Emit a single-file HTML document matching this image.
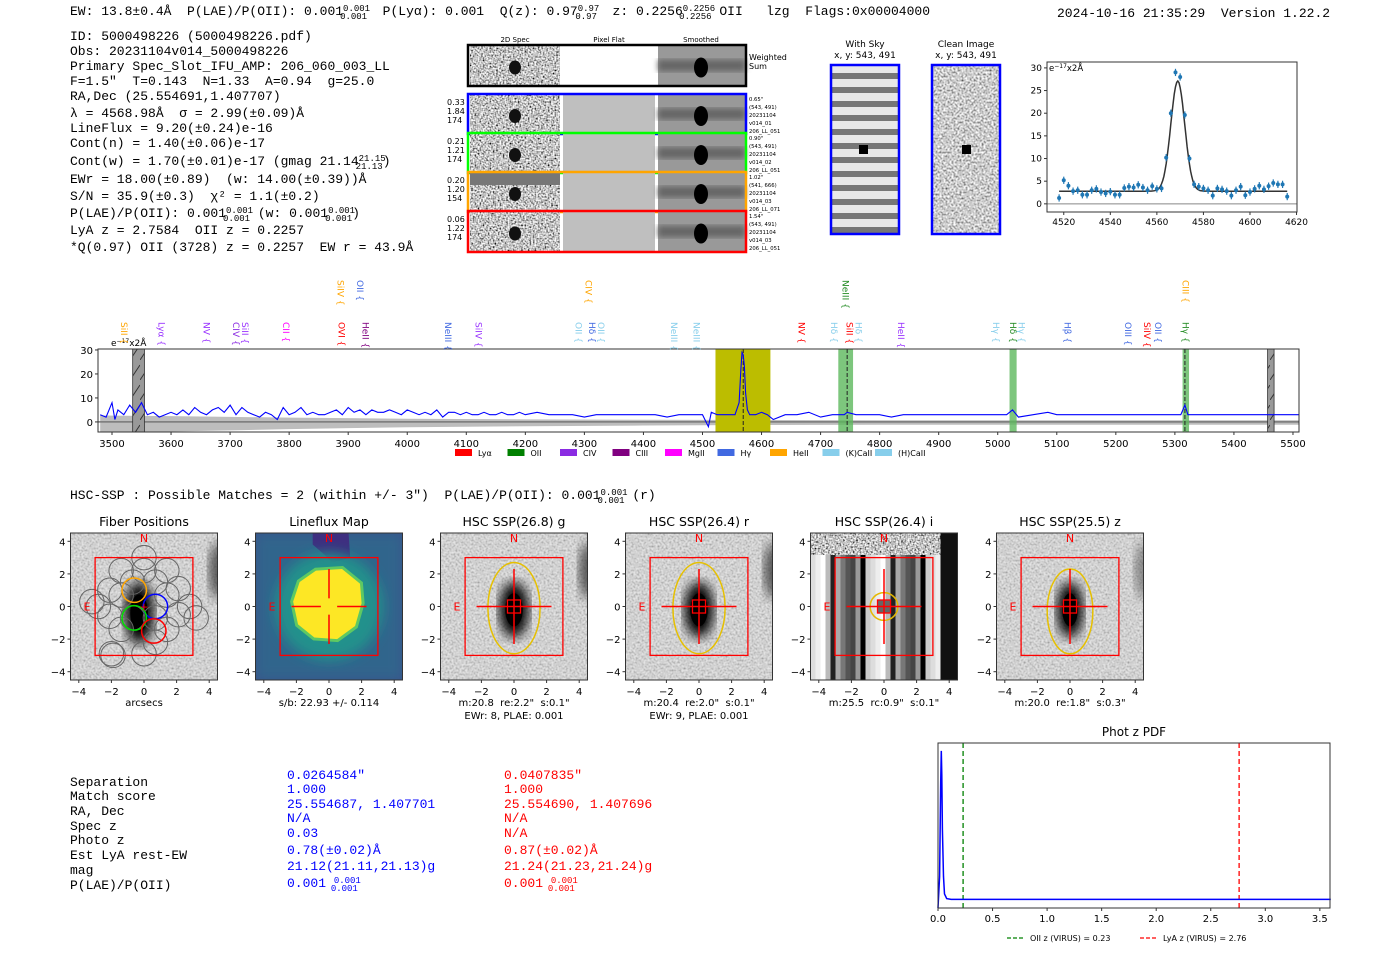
<!DOCTYPE html>
<html><head><meta charset="utf-8"><style>
html,body{margin:0;padding:0;background:#fff;width:1400px;height:953px;overflow:hidden}
svg{display:block}
text{white-space:pre}
.m{font-family:"Liberation Mono",monospace;font-size:13px;fill:#000}
.s{font-family:"DejaVu Sans","Liberation Sans",sans-serif}
</style></head><body>
<svg id="fig" width="1400" height="953" viewBox="0 0 1400 953" xmlns="http://www.w3.org/2000/svg" xml:space="preserve">
<defs>
<filter id="noise" x="0" y="0" width="1" height="1"><feTurbulence type="fractalNoise" baseFrequency="0.6" numOctaves="1" seed="3"/><feColorMatrix type="matrix" values="2.2 0 0 0 -0.55  2.2 0 0 0 -0.55  2.2 0 0 0 -0.55  0 0 0 0 1"/><feComposite in2="SourceGraphic" operator="in"/></filter>
<filter id="noise2" x="0" y="0" width="1" height="1"><feTurbulence type="fractalNoise" baseFrequency="0.5" numOctaves="1" seed="7"/><feColorMatrix type="matrix" values="1.6 0 0 0 -0.2  1.6 0 0 0 -0.2  1.6 0 0 0 -0.2  0 0 0 0 1"/><feComposite in2="SourceGraphic" operator="in"/></filter>
<filter id="blur3"><feGaussianBlur stdDeviation="3"/></filter>
<filter id="blur6"><feGaussianBlur stdDeviation="6"/></filter>
<pattern id="hatch" width="10" height="20" patternUnits="userSpaceOnUse"><rect width="10" height="20" fill="#999"/><path d="M0 20 L10 5" stroke="#333" stroke-width="1"/></pattern>
<pattern id="stripes" width="68" height="14" patternUnits="userSpaceOnUse"><rect width="68" height="14" fill="#e8e8e8"/><rect y="3" width="68" height="6" fill="#777"/></pattern>
</defs>
<g id="header">
<text class="m" x="70" y="15">EW: 13.8±0.4Å  P(LAE)/P(OII): 0.001<tspan font-size="9" dy="-4">0.001</tspan><tspan font-size="9" dx="-30" dy="8">0.001</tspan><tspan dy="-4">  P(Lyα): 0.001  Q(z): 0.97</tspan><tspan font-size="9" dy="-4">0.97</tspan><tspan font-size="9" dx="-24" dy="8">0.97</tspan><tspan dy="-4">  z: 0.2256</tspan><tspan font-size="9" dy="-4">0.2256</tspan><tspan font-size="9" dx="-36" dy="8">0.2256</tspan><tspan dy="-4"> OII   lzg  Flags:0x00004000</tspan></text>
<text class="m" x="1057" y="17">2024-10-16 21:35:29  Version 1.22.2</text>
</g>
<g id="info" class="m">
<text x="70" y="40">ID: 5000498226 (5000498226.pdf)</text>
<text x="70" y="55">Obs: 20231104v014_5000498226</text>
<text x="70" y="70">Primary Spec_Slot_IFU_AMP: 206_060_003_LL</text>
<text x="70" y="85">F=1.5"  T=0.143  N=1.33  A=0.94  g=25.0</text>
<text x="70" y="100">RA,Dec (25.554691,1.407707)</text>
<text x="70" y="117">λ = 4568.98Å  σ = 2.99(±0.09)Å</text>
<text x="70" y="132">LineFlux = 9.20(±0.24)e-16</text>
<text x="70" y="147">Cont(n) = 1.40(±0.06)e-17</text>
<text x="70" y="165">Cont(w) = 1.70(±0.01)e-17 (gmag 21.14<tspan font-size="9" dy="-4">21.15</tspan><tspan font-size="9" dx="-30" dy="8">21.13</tspan><tspan dy="-4">)</tspan></text>
<text x="70" y="183">EWr = 18.00(±0.89)  (w: 14.00(±0.39))Å</text>
<text x="70" y="200">S/N = 35.9(±0.3)  χ² = 1.1(±0.2)</text>
<text x="70" y="217">P(LAE)/P(OII): 0.001<tspan font-size="9" dy="-4">0.001</tspan><tspan font-size="9" dx="-30" dy="8">0.001</tspan><tspan dy="-4"> (w: 0.001</tspan><tspan font-size="9" dy="-4">0.001</tspan><tspan font-size="9" dx="-30" dy="8">0.001</tspan><tspan dy="-4">)</tspan></text>
<text x="70" y="234">LyA z = 2.7584  OII z = 0.2257</text>
<text x="70" y="251">*Q(0.97) OII (3728) z = 0.2257  EW r = 43.9Å</text>
</g>
<g id="spec2d"></g>
<g id="skyimgs"></g>
<g id="zoomplot"></g>
<g id="spectrum"></g>
<text class="m" x="70" y="499">HSC-SSP : Possible Matches = 2 (within +/- 3")  P(LAE)/P(OII): 0.001<tspan font-size="9" dy="-4">0.001</tspan><tspan font-size="9" dx="-30" dy="8">0.001</tspan><tspan dy="-4"> (r)</tspan></text>
<g id="panels"></g>
<g id="table" class="m">
<g>
<text x="70" y="786">Separation</text><text x="70" y="800">Match score</text><text x="70" y="815">RA, Dec</text><text x="70" y="830">Spec z</text><text x="70" y="844">Photo z</text><text x="70" y="859">Est LyA rest-EW</text><text x="70" y="874">mag</text><text x="70" y="889">P(LAE)/P(OII)</text></g>
<g>
<text x="287" y="779" style="fill:#00f">0.0264584"</text><text x="287" y="793" style="fill:#00f">1.000</text><text x="287" y="808" style="fill:#00f">25.554687, 1.407701</text><text x="287" y="822" style="fill:#00f">N/A</text><text x="287" y="837" style="fill:#00f">0.03</text><text x="287" y="854" style="fill:#00f">0.78(±0.02)Å</text><text x="287" y="870" style="fill:#00f">21.12(21.11,21.13)g</text><text x="287" y="887" style="fill:#00f">0.001 <tspan font-size="9" dy="-4">0.001</tspan><tspan font-size="9" dx="-30" dy="8">0.001</tspan></text></g>
<g>
<text x="504" y="779" style="fill:#f00">0.0407835"</text><text x="504" y="793" style="fill:#f00">1.000</text><text x="504" y="808" style="fill:#f00">25.554690, 1.407696</text><text x="504" y="822" style="fill:#f00">N/A</text><text x="504" y="837" style="fill:#f00">N/A</text><text x="504" y="854" style="fill:#f00">0.87(±0.02)Å</text><text x="504" y="870" style="fill:#f00">21.24(21.23,21.24)g</text><text x="504" y="887" style="fill:#f00">0.001 <tspan font-size="9" dy="-4">0.001</tspan><tspan font-size="9" dx="-30" dy="8">0.001</tspan></text></g>
</g>
<g id="photz"></g>
</svg>
<script>
// ---------- data ----------
const specWave=[3480,3490,3500,3505,3510,3520,3530,3540,3550,3560,3570,3580,3590,3600,3610,3620,3630,3640,3650,3660,3670,3680,3690,3700,3710,3720,3730,3740,3750,3760,3770,3780,3790,3800,3810,3820,3830,3840,3850,3860,3870,3880,3890,3900,3910,3920,3930,3940,3950,3960,3970,3980,3990,4000,4010,4020,4030,4040,4050,4060,4070,4080,4090,4100,4110,4120,4130,4140,4150,4160,4170,4180,4190,4200,4220,4240,4260,4280,4300,4320,4340,4360,4380,4400,4420,4440,4460,4480,4500,4510,4515,4525,4540,4555,4562,4565,4567,4569,4571,4573,4576,4580,4590,4600,4610,4620,4640,4660,4680,4700,4720,4740,4745,4760,4780,4800,4820,4840,4860,4880,4900,4920,4940,4960,4980,5000,5015,5025,5035,5060,5085,5100,5120,5140,5160,5180,5200,5220,5240,5260,5280,5300,5310,5317,5322,5340,5360,5380,5400,5420,5440,5460,5480,5500,5510];
const specFlux=[3,2,8,1,5,3,7,4,8,3,4,2,3,4,3,5,3,6,4,3,5,6,4,7,3,6,4,3,2,4,3,1,6,3,4,6,3,4,3,3,4,5,3,6,4,5,3,5,4,4,5,4,3,5,4,3,4,3,5,2,4,4,3,4,3,3,4,3,3,4,3,3,4,3,4,3,3,3,2,3,3,3,3,3,3,2,3,3,3,-2,4,3,3,3,8,22,29,28,23,12,5,3,3,4,3,1,3,3,4,2,3,3,4,3,3,3,2,3,3,3,3,3,3,3,3,3,3,5,2,3,4,3,3,3,3,3,3,3,3,3,3,3,3,7,3,3,3,3,3,3,3,3,3,3,3];
const specErrW=[3480,3600,3700,3800,3900,4000,4200,4400,4600,4800,5000,5200,5510];
const specErr=[4.5,4,3.5,3,2.6,2.2,1.8,1.5,1.3,1.2,1.2,1.2,1.2];
const xTicksSpec=[3500,3600,3700,3800,3900,4000,4100,4200,4300,4400,4500,4600,4700,4800,4900,5000,5100,5200,5300,5400,5500];
const yTicksSpec=[0,10,20,30];
const lineLabels=[["SiII",3520,"#ffa500",1],["Lyα",3584,"#9933ff",1],["NV",3660,"#9933ff",1],["CIV",3710,"#8a2be2",1],["SiII",3725,"#9933ff",1],["CII",3795,"#ff00ff",1],["OVI",3889,"#ff0000",1],["HeII",3929,"#800080",1],["NeIII",4069,"#4169e1",1],["SiIV",4121,"#9933ff",1],["OII",4290,"#87ceeb",1],["Hδ",4313,"#4169e1",1],["OII",4328,"#87ceeb",1],["NeIII",4452,"#87ceeb",1],["NeIII",4490,"#87ceeb",1],["NV",4668,"#ff0000",1],["Hδ",4723,"#87ceeb",1],["SiII",4749,"#ff0000",1],["Hδ",4764,"#87ceeb",1],["HeII",4836,"#9933ff",1],["Hγ",4997,"#87ceeb",1],["Hδ",5026,"#228b22",1],["Hγ",5040,"#87ceeb",1],["Hβ",5118,"#4169e1",1],["OIII",5221,"#4169e1",1],["SiIV",5253,"#ff0000",1],["OII",5271,"#4169e1",1],["Hγ",5318,"#228b22",1],["SiIV",3887,"#ffa500",0],["OII",3920,"#4169e1",0],["CIV",4307,"#ffa500",0],["NeIII",4742,"#228b22",0],["CIII",5318,"#ffa500",0]];
const legendNames=["Lyα","OII","CIV","CIII","MgII","Hγ","HeII","(K)CaII","(H)CaII"];
const legendColors=["#ff0000","#008000","#8a2be2","#800080","#ff00ff","#4169e1","#ffa500","#87ceeb","#87ceeb"];
const fitWave=[4518,4520,4522,4524,4526,4528,4530,4532,4534,4536,4538,4540,4542,4544,4546,4548,4550,4552,4554,4556,4558,4560,4562,4564,4566,4568,4570,4572,4574,4576,4578,4580,4582,4584,4586,4588,4590,4592,4594,4596,4598,4600,4602,4604,4606,4608,4610,4612,4614,4616];
const fitFlux=[1.3,5.2,4,2.8,3,2,2,3,3.3,2.6,2.3,2.7,2,2,3.5,3.8,3.6,4.2,3.6,3,3.9,3.3,3.4,10.2,20,29,28,19.6,10,4.3,3.8,3.4,3,1.8,3.4,3.2,2.8,1.8,3,3.8,1.9,2.6,3.3,4,3.2,3.9,4.6,4.3,4.3,1.6];
const fitModel={center:4568.98,sigma:2.99,amp:24.3,cont:2.8};
const xTicksFit=[4520,4540,4560,4580,4600,4620];
const yTicksFit=[0,5,10,15,20,25,30];
const pdfZ=[0,0.015,0.025,0.03,0.035,0.04,0.05,0.06,0.08,0.12,0.3,1,2,3,3.6];
const pdfP=[0,0.2,0.8,1.0,0.85,0.5,0.2,0.09,0.06,0.055,0.055,0.055,0.055,0.055,0.055];
const xTicksPdf=[0,0.5,1,1.5,2,2.5,3,3.5];
const photzLines=[[0.23,"#008000","OII z (VIRUS) = 0.23"],[2.76,"#ff0000","LyA z (VIRUS) = 2.76"]];
const panelTitles=["Fiber Positions","Lineflux Map","HSC SSP(26.8) g","HSC SSP(26.4) r","HSC SSP(26.4) i","HSC SSP(25.5) z"];
const panelCaps=[["arcsecs"],["s/b: 22.93 +/- 0.114"],["m:20.8  re:2.2\"  s:0.1\"","EWr: 8, PLAE: 0.001"],["m:20.4  re:2.0\"  s:0.1\"","EWr: 9, PLAE: 0.001"],["m:25.5  rc:0.9\"  s:0.1\""],["m:20.0  re:1.8\"  s:0.3\""]];
const panelTicks=[-4,-2,0,2,4];
const fiberX=[0,1.4,-1.4,0.7,-0.7,2.1,-2.1,1.4,-1.4,0,2.8,-2.8,0.7,-0.7,2.1,-2.1,1.4,-1.4,0,3.2,-3.2,0.7,-2.0,-1.9];
const fiberY=[3.0,2.2,2.2,1.5,1.5,1.1,1.0,0.7,0.7,2.2,0,0,-0.7,-0.7,-0.5,-0.6,-1.4,-1.4,-2.9,-0.7,0.3,-2.2,-2.9,-3.0];
const selFiberX=[-0.6,0.7,-0.6,0.6];const selFiberY=[1.0,0.0,-0.7,-1.5];const selFiberC=["orange","blue","#00dd00","red"];
</script>
<script>
const NS="http://www.w3.org/2000/svg";
function el(p,t,a,txt){const e=document.createElementNS(NS,t);for(const k in a)e.setAttribute(k,a[k]);if(txt!==undefined)e.textContent=txt;p.appendChild(e);return e;}
// ---------- 2D spectra ----------
(function(){const g=document.getElementById('spec2d');
[["2D Spec",515],["Pixel Flat",609],["Smoothed",701]].forEach(c=>{const t=el(g,'text',{x:c[1],y:42,'font-size':7,'text-anchor':'middle',class:'s'},c[0]);
});
const rows=[[46,85,"#000",null,"Weighted\nSum"],[95,133,"#0000ff",["0.33","1.84","174"],"0.65\"\n(543, 491)\n20231104\nv014_01\n206_LL_051"],[134,172,"#00ff00",["0.21","1.21","174"],"0.90\"\n(543, 491)\n20231104\nv014_02\n206_LL_051"],[173,211,"#ffa500",["0.20","1.20","154"],"1.02\"\n(541, 666)\n20231104\nv014_03\n206_LL_071"],[212,251,"#ff0000",["0.06","1.22","174"],"1.54\"\n(543, 491)\n20231104\nv014_03\n206_LL_051"]];
rows.forEach((r,i)=>{const grp=el(g,'g',{});
const h=r[1]-r[0];
el(grp,'rect',{x:470,y:r[0],width:90,height:h,fill:'#888',filter:'url(#noise)'});
if(i==3)el(grp,'rect',{x:470,y:r[0],width:90,height:12,fill:'#777'});
el(grp,'ellipse',{cx:515,cy:r[0]+h/2+2,rx:6,ry:7,fill:'#111'});
el(grp,'rect',{x:563,y:r[0],width:92,height:h,fill:i==0?'#fff':'#bfbfbf'});
el(grp,'rect',{x:658,y:r[0],width:87,height:h,fill:'#999'});
el(grp,'rect',{x:658,y:r[0]+h*0.35,width:87,height:h*0.3,fill:'#666',filter:'url(#blur3)'});
el(grp,'line',{x1:701,y1:r[0],x2:701,y2:r[1],stroke:'#222','stroke-width':5,filter:'url(#blur3)'});
el(grp,'ellipse',{cx:701,cy:r[0]+h/2+2,rx:7,ry:10,fill:'#000'});
el(grp,'rect',{x:468,y:r[0]-1,width:278,height:h+2,fill:'none',stroke:r[2],'stroke-width':2.5});
if(r[3])r[3].forEach((v,j)=>el(grp,'text',{x:447,y:r[0]+10+j*9,'font-size':8,class:'s'},v));
r[4].split('\n').forEach((v,j)=>el(grp,'text',{x:749,y:r[0]+(i==0?14+j*9:6+j*8),'font-size':i==0?8:5.3,class:'s'},v));});
})();
// ---------- sky images ----------
(function(){const g=document.getElementById('skyimgs');
[[865,"With Sky",'url(#stripes)'],[966,"Clean Image",'#9a9a9a']].forEach((c,i)=>{const grp=el(g,'g',{});
el(grp,'text',{x:c[0],y:47,'font-size':9,'text-anchor':'middle',class:'s'},c[1]);
el(grp,'text',{x:c[0],y:58,'font-size':9,'text-anchor':'middle',class:'s'},"x, y: 543, 491");
if(i)el(grp,'rect',{x:c[0]-34,y:65,width:68,height:169,fill:'#999',filter:'url(#noise2)'});
else{el(grp,'rect',{x:c[0]-34,y:65,width:68,height:169,fill:c[2]});}
el(grp,'rect',{x:c[0]-5+(i?1:-1),y:145,width:9,height:9,fill:'#000'});
el(grp,'rect',{x:c[0]-34,y:65,width:68,height:169,fill:'none',stroke:'#0000ff','stroke-width':2.5});});
})();
// ---------- zoom fit plot ----------
(function(){const g=document.getElementById('zoomplot');
const L=1047,R=1297,T=62,B=212,x0=4512.8,x1=4620.2,y0=-1.8,y1=31.3;
const X=v=>L+(v-x0)/(x1-x0)*(R-L),Y=v=>B-(v-y0)/(y1-y0)*(B-T);
el(g,'line',{x1:L,x2:R,y1:Y(0),y2:Y(0),stroke:'#888','stroke-width':1});
let d='';for(let w=4518;w<=4616;w+=0.5){const f=fitModel.cont+fitModel.amp*Math.exp(-0.5*Math.pow((w-fitModel.center)/fitModel.sigma,2));d+=(d?'L':'M')+X(w).toFixed(1)+' '+Y(f).toFixed(1);}
const fl=el(g,'path',{d:d,fill:'none',stroke:'#333','stroke-width':1.5});
fitWave.forEach((w,i)=>{const pg=el(g,'g',{});
el(pg,'line',{x1:X(w),x2:X(w),y1:Y(fitFlux[i]-0.8),y2:Y(fitFlux[i]+0.8),stroke:'#1f77b4','stroke-width':1.2});
el(pg,'circle',{cx:X(w),cy:Y(fitFlux[i]),r:2,fill:'#1f77b4'});});
el(g,'rect',{x:L,y:T,width:R-L,height:B-T,fill:'none',stroke:'#333','stroke-width':1});
xTicksFit.forEach(t=>{el(g,'line',{x1:X(t),x2:X(t),y1:B,y2:B+3,stroke:'#333'});const tx=el(g,'text',{x:X(t),y:B+13,'font-size':9,'text-anchor':'middle',class:'s'},t);});
yTicksFit.forEach(t=>{el(g,'line',{x1:L-3,x2:L,y1:Y(t),y2:Y(t),stroke:'#333'});const tx=el(g,'text',{x:L-5,y:Y(t)+3,'font-size':9,'text-anchor':'end',class:'s'},t);});
const u=el(g,'text',{x:L+2,y:T+9,'font-size':8.5,class:'s'},'e');el(u,'tspan',{'font-size':6,dy:-3},'−17');el(u,'tspan',{dy:3},'x2Å');
})();
// ---------- full spectrum ----------
(function(){const g=document.getElementById('spectrum');
const L=98,R=1299,T=349,B=432,x0=3476.3,x1=5510.2,y0=-4.2,y1=30.4;
const X=v=>L+(v-x0)/(x1-x0)*(R-L),Y=v=>B-(v-y0)/(y1-y0)*(B-T);
const clip=el(g,'clipPath',{id:'specclip'});el(clip,'rect',{x:L,y:T,width:R-L,height:B-T});
const inner=el(g,'g',{'clip-path':'url(#specclip)'});
let up='',dn='';specErrW.forEach((w,i)=>{up+=(up?'L':'M')+X(w)+' '+Y(specErr[i]*0.6);});
for(let i=specErrW.length-1;i>=0;i--)dn+='L'+X(specErrW[i])+' '+Y(-specErr[i]);
const band=el(inner,'path',{d:up+dn+'Z',fill:'#bdbdbd'});
el(inner,'line',{x1:L,x2:R,y1:Y(0),y2:Y(0),stroke:'#777','stroke-width':1.5});
const regs=[[3535,3555,'url(#hatch)','masked-region'],[4522,4615,'#bcbd00','emission-line-window'],[4730,4755,'#5cb85c','line-band'],[5020,5032,'#5cb85c','line-band'],[5313,5324,'#5cb85c','line-band'],[5457,5468,'url(#hatch)','masked-region']];
regs.forEach(r=>{const rc=el(inner,'rect',{x:X(r[0]),y:T,width:X(r[1])-X(r[0]),height:B-T,fill:r[2],opacity:r[2]=='#5cb85c'?0.8:1,stroke:r[2].startsWith('url')?'#333':'none','stroke-width':0.8});});
[4569,4745,5317].forEach(w=>el(inner,'line',{x1:X(w),x2:X(w),y1:T,y2:B,stroke:'#222','stroke-width':1,'stroke-dasharray':'4,2'}));
let d='';specWave.forEach((w,i)=>{d+=(d?'L':'M')+X(w).toFixed(1)+' '+Y(specFlux[i]).toFixed(1);});
const sl=el(inner,'path',{d:d,fill:'none',stroke:'#0000ff','stroke-width':1.1});
el(g,'rect',{x:L,y:T,width:R-L,height:B-T,fill:'none',stroke:'#333','stroke-width':1});
xTicksSpec.forEach(t=>{el(g,'line',{x1:X(t),x2:X(t),y1:B,y2:B+3,stroke:'#333'});const tx=el(g,'text',{x:X(t),y:B+15,'font-size':10,'text-anchor':'middle',class:'s'},t);});
yTicksSpec.forEach(t=>{el(g,'line',{x1:L-3,x2:L,y1:Y(t),y2:Y(t),stroke:'#333'});const tx=el(g,'text',{x:L-5,y:Y(t)+4,'font-size':10,'text-anchor':'end',class:'s'},t);});
const u=el(g,'text',{x:111,y:346,'font-size':9,class:'s'},'e');el(u,'tspan',{'font-size':6,dy:-3},'−17');el(u,'tspan',{dy:3},'x2Å');
lineLabels.forEach(l=>{const y=l[3]?322:280;const t=el(g,'text',{x:0,y:0,'font-size':9,fill:l[2],class:'s',transform:'translate('+(X(l[1])-3)+','+y+') rotate(90)'},l[0]+' {');
});
legendNames.forEach((n,i)=>{const x=455+i*52.5;const lg=el(g,'g',{});
el(lg,'rect',{x:x,y:449,width:17,height:7,fill:legendColors[i]});el(lg,'text',{x:x+23,y:456,'font-size':8,class:'s'},n);});
})();
// ---------- imaging panels ----------
(function(){const g=document.getElementById('panels');
const centers=[144,329,514,699,884,1070];
centers.forEach((cx,p)=>{const grp=el(g,'g',{});
const s=16.3,cy=606.5,L=cx-73.5,T=533,W=147;const X=v=>cx+v*s,Y=v=>cy-v*s;
const cp=el(grp,'clipPath',{id:'pc'+p});el(cp,'rect',{x:L,y:T,width:W,height:W});
const im=el(grp,'g',{'clip-path':'url(#pc'+p+')'});
if(p==1){el(im,'rect',{x:L,y:T,width:W,height:W,fill:'#3b528b'});
el(im,'rect',{x:L,y:T,width:W,height:W,fill:'#2c728e',opacity:0.6,filter:'url(#blur6)'});
el(im,'path',{d:`M${X(-1)} ${T}L${X(1.2)} ${T}L${X(1.3)} ${Y(3)}L${X(0.2)} ${Y(2.7)}L${X(-0.3)} ${Y(3.2)}L${X(-1)} ${Y(3.8)}Z`,fill:'#3e2f80'});
el(im,'ellipse',{cx:X(0),cy:Y(0),rx:3.3*s,ry:3.3*s,fill:'#21918c',filter:'url(#blur6)'});
el(im,'path',{d:`M${X(-2.2)} ${Y(0.3)}L${X(-1.8)} ${Y(1.5)}L${X(-0.8)} ${Y(2.2)}L${X(0.8)} ${Y(2.3)}L${X(1.9)} ${Y(1.4)}L${X(2.0)} ${Y(0.2)}L${X(1.6)} ${Y(-1.2)}L${X(0.5)} ${Y(-2.0)}L${X(-0.9)} ${Y(-1.9)}L${X(-1.9)} ${Y(-1.1)}Z`,fill:'#fde725',stroke:'#5ec962','stroke-width':6,'paint-order':'stroke'});}
else if(p==4){el(im,'rect',{x:L,y:T,width:W,height:W,fill:'#888'});
const sc=['#ddd','#555','#fff','#999','#222','#ccc','#777','#eee','#444','#bbb','#000','#aaa'];
for(let i=0;i<30;i++){el(im,'rect',{x:L+i*5,y:T+20,width:5,height:W,fill:sc[(i*7)%12]});}
el(im,'rect',{x:L,y:T,width:W,height:22,fill:'#888',filter:'url(#noise)'});
el(im,'rect',{x:L+130,y:T,width:17,height:W,fill:'#111'});}
else{el(im,'rect',{x:L,y:T,width:W,height:W,fill:'#ccc',filter:'url(#noise2)'});
el(im,'rect',{x:L,y:T,width:W,height:W,fill:'#d4d4d4',opacity:0.6});
el(im,'ellipse',{cx:X(4.6),cy:Y(2.2),rx:10,ry:28,fill:'#333',filter:'url(#blur6)',opacity:p==5?0.5:0.8});
const rx=p==0?0.9:(p==5?0.8:0.9),ry=p==0?1.9:1.7;
el(im,'ellipse',{cx:X(p==0?-0.3:0),cy:Y(p==0?-0.4:-0.2),rx:rx*s,ry:ry*s,fill:'#000',filter:'url(#blur6)'});
el(im,'ellipse',{cx:X(p==0?-0.3:0),cy:Y(p==0?-0.4:-0.2),rx:rx*s*0.6,ry:ry*s*0.6,fill:'#000'});}
if(p==0){fiberX.forEach((fx,i)=>{const c=el(im,'circle',{cx:X(fx),cy:Y(fiberY[i]),r:0.75*s,fill:'none',stroke:'#666','stroke-width':1});});
selFiberX.forEach((fx,i)=>{const c=el(im,'circle',{cx:X(fx),cy:Y(selFiberY[i]),r:0.75*s,fill:'none',stroke:selFiberC[i],'stroke-width':1.5});});}
el(im,'rect',{x:X(-3),y:Y(3),width:6*s,height:6*s,fill:'none',stroke:'#ff0000','stroke-width':1.3});
if(p==1){el(im,'line',{x1:X(-2.3),x2:X(-0.5),y1:cy,y2:cy,stroke:'red','stroke-width':1.5});el(im,'line',{x1:X(0.5),x2:X(2.3),y1:cy,y2:cy,stroke:'red','stroke-width':1.5});
el(im,'line',{x1:cx,x2:cx,y1:Y(2.3),y2:Y(0.5),stroke:'red','stroke-width':1.5});el(im,'line',{x1:cx,x2:cx,y1:Y(-0.5),y2:Y(-2.3),stroke:'red','stroke-width':1.5});}
if(p==0)el(im,'text',{x:X(0),y:cy+4,'font-size':11,fill:'red','text-anchor':'middle',class:'s'},'+');
if(p>=2){if(p==4)el(im,'circle',{cx:X(0),cy:Y(0),r:0.85*s,fill:'none',stroke:'#e6b800','stroke-width':1.5});
else el(im,'ellipse',{cx:X(0),cy:Y(p==5?-0.3:-0.1),rx:(p==5?1.4:1.6)*s,ry:(p==5?2.6:2.8)*s,fill:'none',stroke:'#e6c000','stroke-width':1.5});
el(im,'rect',{x:X(-0.4),y:Y(0.4),width:0.8*s,height:0.8*s,fill:p==4?'#666':'#000',stroke:'red','stroke-width':1.3});
el(im,'line',{x1:cx,x2:cx,y1:Y(2.3),y2:Y(-2.3),stroke:'red','stroke-width':1.5});el(im,'line',{x1:X(-2.3),x2:X(2.3),y1:cy,y2:cy,stroke:'red','stroke-width':1.5});}
el(grp,'text',{x:cx,y:Y(3.95),'font-size':11,fill:'red','text-anchor':'middle',class:'s'},'N');
el(grp,'text',{x:X(-3.5),y:cy+4,'font-size':11,fill:'red','text-anchor':'middle',class:'s'},'E');
el(grp,'rect',{x:L,y:T,width:W,height:W,fill:'none',stroke:'#333','stroke-width':1});
const tt=el(grp,'text',{x:cx,y:526,'font-size':12.5,'text-anchor':'middle',class:'s'},panelTitles[p]);
panelTicks.forEach(t=>{el(grp,'line',{x1:X(t),x2:X(t),y1:T+W,y2:T+W+3,stroke:'#333'});el(grp,'text',{x:X(t),y:T+W+15,'font-size':10,'text-anchor':'middle',class:'s'},t<0?'−'+(-t):t);
el(grp,'line',{x1:L-3,x2:L,y1:Y(t),y2:Y(t),stroke:'#333'});el(grp,'text',{x:L-5,y:Y(t)+4,'font-size':10,'text-anchor':'end',class:'s'},t<0?'−'+(-t):t);});
panelCaps[p].forEach((c,j)=>el(grp,'text',{x:cx,y:706+j*13,'font-size':10,'text-anchor':'middle',class:'s'},c));});
})();
// ---------- phot z ----------
(function(){const g=document.getElementById('photz');
const L=938,R=1330,T=743,B=908,x0=0,x1=3.593,y0=0,y1=1.05;
const X=v=>L+(v-x0)/(x1-x0)*(R-L),Y=v=>B-(v-y0)/(y1-y0)*(B-T);
el(g,'text',{x:1134,y:736,'font-size':12,'text-anchor':'middle',class:'s'},'Phot z PDF');
photzLines.forEach(l=>{const ln=el(g,'line',{x1:X(l[0]),x2:X(l[0]),y1:T,y2:B,stroke:l[1],'stroke-width':1.3,'stroke-dasharray':'5,3'});});
let d='';pdfZ.forEach((z,i)=>{d+=(d?'L':'M')+X(z).toFixed(1)+' '+Y(pdfP[i]).toFixed(1);});
const pl=el(g,'path',{d:d,fill:'none',stroke:'#0000ff','stroke-width':1.5});
el(g,'rect',{x:L,y:T,width:R-L,height:B-T,fill:'none',stroke:'#333','stroke-width':1});
xTicksPdf.forEach(t=>{el(g,'line',{x1:X(t),x2:X(t),y1:B,y2:B+3,stroke:'#333'});el(g,'text',{x:X(t),y:B+14,'font-size':10,'text-anchor':'middle',class:'s'},t.toFixed(1));});
photzLines.forEach((l,i)=>{const x=1007+i*133;const lg=el(g,'g',{});
el(lg,'line',{x1:x,x2:x+17,y1:938,y2:938,stroke:l[1],'stroke-width':1.3,'stroke-dasharray':'4,2'});el(lg,'text',{x:x+23,y:941,'font-size':8,class:'s'},l[2]);});
})();
</script>
</body></html>
